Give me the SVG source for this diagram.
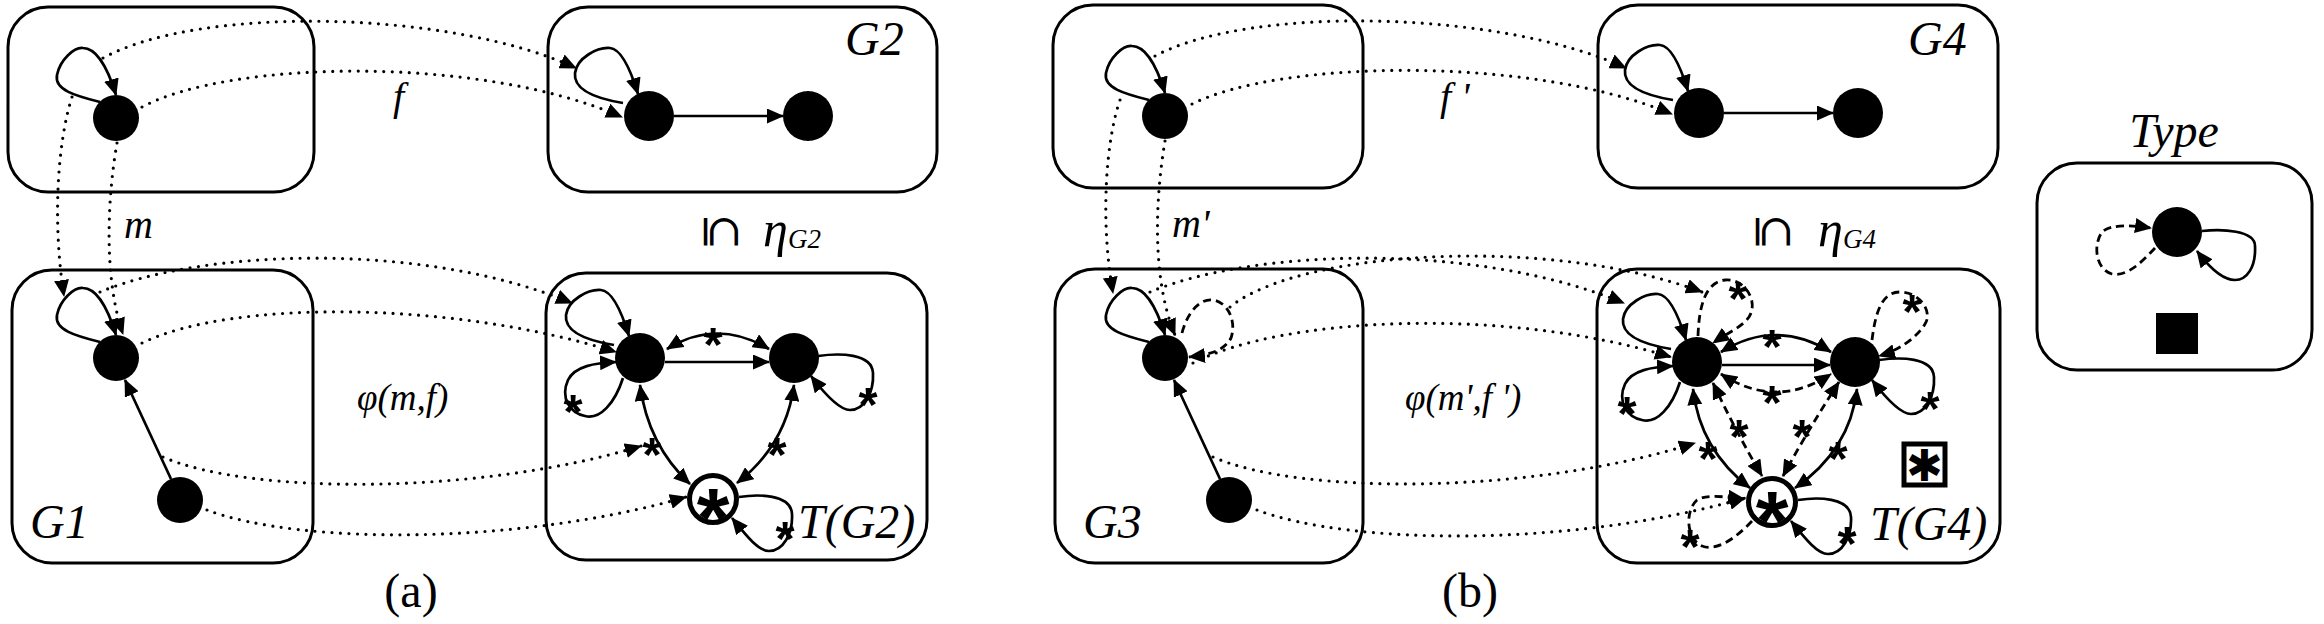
<svg xmlns="http://www.w3.org/2000/svg" width="2324" height="624" viewBox="0 0 2324 624">
<style>
.box{fill:none;stroke:#000;stroke-width:3}
.nd{fill:#000}
.e{fill:none;stroke:#000;stroke-width:2.7}
.dot{fill:none;stroke:#000;stroke-width:3.2;stroke-dasharray:0 8.5;stroke-linecap:round}
.dash{fill:none;stroke:#000;stroke-width:2.8;stroke-dasharray:8 5}
.lbl{font-family:"Liberation Serif","Times New Roman",serif;font-style:italic;fill:#000}
.cap{font-family:"Liberation Serif","Times New Roman",serif;fill:#000}
.st{font-family:"Liberation Sans",sans-serif;font-weight:bold;font-size:49px;text-anchor:middle;fill:#000}
.bst{font-family:"Liberation Sans",sans-serif;font-weight:bold;font-size:84px;text-anchor:middle;fill:#000}
</style>
<defs>
<marker id="ah" viewBox="0 0 17 15" refX="16" refY="7.5" markerWidth="17" markerHeight="15" markerUnits="userSpaceOnUse" orient="auto-start-reverse"><path d="M0,0 L17,7.5 L0,15 z" fill="#000"/></marker>
</defs>
<rect width="2324" height="624" fill="#fff"/>

<!-- boxes -->
<g id="box-a1"><rect class="box" x="8" y="7" width="306" height="185" rx="40"/></g>
<g id="box-g2"><rect class="box" x="548" y="7" width="389" height="185" rx="40"/><text class="lbl" x="845" y="55" font-size="48">G2</text></g>
<g id="box-g1"><rect class="box" x="12" y="270" width="301" height="293" rx="40"/><text class="lbl" x="30" y="538" font-size="48">G1</text></g>
<g id="box-tg2"><rect class="box" x="546" y="273" width="381" height="287" rx="40"/><text class="lbl" x="798" y="538" font-size="48">T(G2)</text></g>
<g id="box-b1"><rect class="box" x="1053" y="5" width="310" height="183" rx="40"/></g>
<g id="box-g4"><rect class="box" x="1598" y="5" width="400" height="183" rx="40"/><text class="lbl" x="1908" y="55" font-size="48">G4</text></g>
<g id="box-g3"><rect class="box" x="1055" y="269" width="308" height="294" rx="40"/><text class="lbl" x="1083" y="538" font-size="48">G3</text></g>
<g id="box-tg4"><rect class="box" x="1597" y="269" width="403" height="294" rx="40"/><text class="lbl" x="1870" y="540" font-size="48">T(G4)</text></g>
<g id="box-type"><rect class="box" x="2037" y="163" width="275" height="207" rx="40"/><text class="lbl" x="2174" y="147" font-size="48" text-anchor="middle">Type</text></g>

<!-- connectors -->
<g id="connectors" marker-end="url(#ah)">
  <!-- loops (solid) -->
  <path class="e" transform="translate(116,118)" d="M-16,-16 C-40,-22 -62,-28 -59,-43 C-56,-58 -42,-71 -33,-70 C-22,-70 -10,-56 0,-23"/>
  <path class="e" transform="translate(116,358)" d="M-16,-16 C-40,-22 -62,-28 -59,-43 C-56,-58 -42,-71 -33,-70 C-22,-70 -10,-56 0,-23"/>
  <path class="e" transform="translate(1165,116)" d="M-16,-16 C-40,-22 -62,-28 -59,-43 C-56,-58 -42,-71 -33,-70 C-22,-70 -10,-56 0,-23"/>
  <path class="e" transform="translate(1165,358)" d="M-16,-16 C-40,-22 -62,-28 -59,-43 C-56,-58 -42,-71 -33,-70 C-22,-70 -10,-56 0,-23"/>
  <path class="e" transform="translate(649,116)" d="M-26,-13 C-50,-17 -76,-25 -74,-43 C-72,-58 -52,-69 -39,-68 C-28,-67 -18,-45 -11,-22"/>
  <path class="e" transform="translate(1699,113)" d="M-26,-13 C-50,-17 -76,-25 -74,-43 C-72,-58 -52,-69 -39,-68 C-28,-67 -18,-45 -11,-22"/>
  <path class="e" transform="translate(640,358)" d="M-26,-13 C-50,-17 -76,-25 -74,-43 C-72,-58 -52,-69 -39,-68 C-28,-67 -18,-45 -11,-22"/>
  <path class="e" transform="translate(1697,362)" d="M-26,-13 C-50,-17 -76,-25 -74,-43 C-72,-58 -52,-69 -39,-68 C-28,-67 -18,-45 -11,-22"/>
  <path class="e" transform="translate(640,358)" d="M-17,20 C-25,45 -40,62 -55,58 C-70,55 -80,40 -72,22 C-65,8 -45,5 -24,4"/>
  <path class="e" transform="translate(1697,362)" d="M-17,20 C-25,45 -40,62 -55,58 C-70,55 -80,40 -72,22 C-65,8 -45,5 -24,4"/>
  <path class="e" transform="translate(794,358)" d="M24,-2 C45,-5 78,-5 79,15 C80,35 70,52 56,52 C45,52 30,35 17,18"/>
  <path class="e" transform="translate(713,499)" d="M26,-2 C45,-5 78,-5 79,15 C80,35 70,52 56,52 C45,52 32,35 19,19"/>
  <path class="e" transform="translate(1855,362)" d="M24,-2 C45,-5 78,-5 79,15 C80,35 70,52 56,52 C45,52 30,35 17,18"/>
  <path class="e" transform="translate(1772,502)" d="M26,-2 C45,-5 78,-5 79,15 C80,35 70,52 56,52 C45,52 32,35 19,19"/>
  <path class="e" transform="translate(2177,232)" d="M25,-1 C45,-3 78,-2 78,14 C79,35 70,48 58,48 C46,48 32,35 20,19"/>
  <!-- loops (dashed) -->
  <path class="dash" transform="translate(1165,358)" d="M17,-25 C22,-45 35,-60 48,-58 C62,-56 72,-38 66,-20 C60,-8 45,-3 24,-1"/>
  <path class="dash" transform="translate(1697,362)" d="M1,-26 C2,-55 8,-80 28,-82 C48,-84 62,-60 52,-45 C45,-35 32,-30 16,-19"/>
  <path class="dash" transform="translate(1855,362)" d="M17,-22 C20,-45 25,-70 45,-70 C65,-70 78,-50 70,-38 C62,-25 45,-12 24,-6"/>
  <path class="dash" transform="translate(1772,502)" d="M-20,19 C-35,35 -55,50 -70,44 C-85,38 -88,10 -75,-2 C-65,-8 -45,-5 -28,-3"/>
  <path class="dash" transform="translate(2177,232)" d="M-22,16 C-35,30 -50,45 -65,42 C-80,38 -85,15 -75,0 C-66,-8 -45,-7 -26,-4"/>
  <!-- straight edges -->
  <path class="e" d="M674,116 L783,116"/>
  <path class="e" d="M1724,113 L1833,113"/>
  <path class="e" d="M171,479 L125,380"/>
  <path class="e" d="M1220,479 L1174,380"/>
  <path class="e" d="M665,362 L769,362"/>
  <path class="e" d="M1722,365 L1830,365"/>
  <!-- bidirectional edges -->
  <path class="e" marker-start="url(#ah)" d="M667,349 Q717,318 769,349"/>
  <path class="e" marker-start="url(#ah)" d="M640,385 Q648,445 690,484"/>
  <path class="e" marker-start="url(#ah)" d="M794,385 Q786,445 737,483"/>
  <path class="e" marker-start="url(#ah)" d="M1721,352 Q1776,318 1831,352"/>
  <path class="dash" marker-start="url(#ah)" d="M1721,374 Q1776,410 1831,374"/>
  <path class="e" marker-start="url(#ah)" d="M1693,389 Q1700,450 1750,488"/>
  <path class="e" marker-start="url(#ah)" d="M1857,389 Q1850,450 1795,488"/>
  <path class="dash" marker-start="url(#ah)" d="M1713,383 Q1735,430 1762,476"/>
  <path class="dash" marker-start="url(#ah)" d="M1839,382 Q1808,430 1783,476"/>
  <!-- dotted mappings (a) -->
  <path class="dot" d="M103,58 C200,5 450,10 576,68"/>
  <path class="dot" d="M142,107 C230,60 480,55 622,117"/>
  <path class="dot" d="M72,97 C58,140 52,220 64,296"/>
  <path class="dot" d="M117,143 C107,200 104,280 123,334"/>
  <path class="dot" d="M100,292 C200,250 420,240 572,303"/>
  <path class="dot" d="M142,343 C230,300 450,300 616,352"/>
  <path class="dot" d="M163,457 C250,495 480,495 641,446"/>
  <path class="dot" d="M207,510 C300,545 520,545 686,497"/>
  <!-- dotted mappings (b) -->
  <path class="dot" d="M1155,56 C1250,5 1500,10 1626,68"/>
  <path class="dot" d="M1192,104 C1280,60 1530,55 1672,114"/>
  <path class="dot" d="M1120,100 C1106,140 1100,220 1113,293"/>
  <path class="dot" d="M1165,141 C1155,200 1152,280 1175,335"/>
  <path class="dot" d="M1150,292 C1250,250 1470,240 1624,303"/>
  <path class="dot" d="M1230,307 C1300,250 1550,235 1702,292"/>
  <path class="dot" d="M1193,363 C1280,318 1500,305 1671,357"/>
  <path class="dot" d="M1213,457 C1300,495 1530,495 1695,443"/>
  <path class="dot" d="M1257,510 C1350,545 1570,548 1745,498"/>
</g>

<!-- nodes -->
<g id="n-a1"><circle class="nd" cx="116" cy="118" r="23"/></g>
<g id="n-g2a"><circle class="nd" cx="649" cy="116" r="25"/></g>
<g id="n-g2b"><circle class="nd" cx="808" cy="116" r="25"/></g>
<g id="n-g1a"><circle class="nd" cx="116" cy="358" r="23"/></g>
<g id="n-g1b"><circle class="nd" cx="180" cy="500" r="23"/></g>
<g id="n-tg2a"><circle class="nd" cx="640" cy="358" r="25"/></g>
<g id="n-tg2b"><circle class="nd" cx="794" cy="358" r="25"/></g>
<g id="n-tg2s"><circle cx="713" cy="499" r="23.5" fill="#fff" stroke="#000" stroke-width="5"/><text class="bst" x="713" y="547">*</text></g>
<g id="n-b1"><circle class="nd" cx="1165" cy="116" r="23"/></g>
<g id="n-g4a"><circle class="nd" cx="1699" cy="113" r="25"/></g>
<g id="n-g4b"><circle class="nd" cx="1858" cy="113" r="25"/></g>
<g id="n-g3a"><circle class="nd" cx="1165" cy="358" r="23"/></g>
<g id="n-g3b"><circle class="nd" cx="1229" cy="500" r="23"/></g>
<g id="n-tg4a"><circle class="nd" cx="1697" cy="362" r="25"/></g>
<g id="n-tg4b"><circle class="nd" cx="1855" cy="362" r="25"/></g>
<g id="n-tg4s"><circle cx="1772" cy="502" r="23.5" fill="#fff" stroke="#000" stroke-width="5"/><text class="bst" x="1772" y="550">*</text></g>
<g id="n-tg4box"><rect x="1904" y="444" width="41" height="41" fill="#fff" stroke="#000" stroke-width="5"/><text x="1924.5" y="481" font-family="DejaVu Sans, sans-serif" font-weight="bold" font-size="44" text-anchor="middle">✱</text></g>
<g id="n-type"><circle class="nd" cx="2177" cy="232" r="25"/></g>
<g id="n-typebox"><rect x="2156" y="313" width="42" height="41" fill="#000"/></g>

<!-- edge stars -->
<g id="stars">
  <text class="st" x="713" y="361">*</text>
  <text class="st" x="652" y="471">*</text>
  <text class="st" x="777" y="471">*</text>
  <text class="st" x="573" y="428">*</text>
  <text class="st" x="868" y="421">*</text>
  <text class="st" x="785" y="555">*</text>
  <text class="st" x="1772" y="363">*</text>
  <text class="st" x="1772" y="419">*</text>
  <text class="st" x="1708" y="475">*</text>
  <text class="st" x="1838" y="475">*</text>
  <text class="st" x="1739" y="453">*</text>
  <text class="st" x="1802" y="453">*</text>
  <text class="st" x="1627" y="430">*</text>
  <text class="st" x="1738" y="315">*</text>
  <text class="st" x="1912" y="328">*</text>
  <text class="st" x="1930" y="425">*</text>
  <text class="st" x="1847" y="560">*</text>
  <text class="st" x="1690" y="563">*</text>
</g>

<!-- labels -->
<g id="labels">
  <text class="lbl" x="124" y="238" font-size="40">m</text>
  <text class="lbl" x="393" y="110" font-size="40">f</text>
  <text class="lbl" x="357" y="410" font-size="37">φ(m,f)</text>
  <text class="cap" x="411" y="607" font-size="48" text-anchor="middle">(a)</text>
  <text transform="translate(722,232) rotate(90)" font-family="DejaVu Serif, serif" font-size="44" text-anchor="middle" dominant-baseline="central">⊆</text>
  <text class="lbl" x="763" y="246" font-size="50">η</text>
  <text class="lbl" x="788" y="248" font-size="27">G2</text>
  <text class="lbl" x="1172" y="237" font-size="40">m'</text>
  <text class="lbl" x="1440" y="110" font-size="40">f '</text>
  <text class="lbl" x="1405" y="410" font-size="37">φ(m',f ')</text>
  <text class="cap" x="1470" y="607" font-size="48" text-anchor="middle">(b)</text>
  <text transform="translate(1774,232) rotate(90)" font-family="DejaVu Serif, serif" font-size="44" text-anchor="middle" dominant-baseline="central">⊆</text>
  <text class="lbl" x="1818" y="246" font-size="50">η</text>
  <text class="lbl" x="1843" y="248" font-size="27">G4</text>
</g>
</svg>
